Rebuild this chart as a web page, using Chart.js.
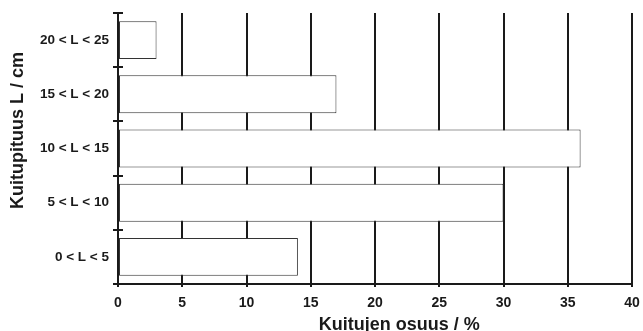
<!DOCTYPE html>
<html>
<head>
<meta charset="utf-8">
<script src="https://cdn.jsdelivr.net/npm/chart.js@4/dist/chart.umd.min.js"></script>
<style>
  html, body { margin: 0; padding: 0; background: #fff; }
  #wrap { width: 643px; height: 331px; position: relative; }
</style>
</head>
<body>
<div id="wrap"><canvas id="c" width="643" height="331"></canvas></div>
<script>
// Fibre length classes (bottom to top) and their share of fibres in percent
const lengthClasses = ['0 < L < 5', '5 < L < 10', '10 < L < 15', '15 < L < 20', '20 < L < 25'];
const shares = [14, 30, 36, 17, 3];
const xTicks = [0, 5, 10, 15, 20, 25, 30, 35, 40];
const xTitle = 'Kuitujen osuus / %';
const yTitle = 'Kuitupituus L / cm';

const FONT = '"Liberation Sans", Arial, sans-serif';
const INK = '#1a1a1a';

// Axis titles and the inner half of the class boundary ticks
const decorations = {
  id: 'decorations',
  afterDraw(chart) {
    const { ctx, chartArea } = chart;
    const y = chart.scales.y;
    ctx.save();
    ctx.strokeStyle = INK;
    ctx.lineWidth = 2;
    for (let i = 0; i <= lengthClasses.length; i++) {
      const py = Math.round(y.getPixelForValue(i - 0.5));
      ctx.beginPath();
      ctx.moveTo(chartArea.left, py);
      ctx.lineTo(chartArea.left + 5, py);
      ctx.stroke();
    }
    ctx.fillStyle = INK;
    ctx.font = 'bold 18px ' + FONT;
    ctx.textAlign = 'center';
    ctx.textBaseline = 'alphabetic';
    ctx.fillText(xTitle, chartArea.left + (chartArea.right - chartArea.left) * 0.547, 330);
    ctx.translate(23, (chartArea.top + chartArea.bottom) / 2 - 18);
    ctx.rotate(-Math.PI / 2);
    ctx.fillText(yTitle, 0, 0);
    ctx.restore();
  }
};

new Chart(document.getElementById('c'), {
  type: 'bar',
  data: {
    labels: lengthClasses,
    datasets: [{
      data: shares,
      backgroundColor: '#ffffff',
      borderColor: '#333333',
      borderWidth: 1,
      borderSkipped: false,
      barPercentage: 0.7,
      categoryPercentage: 1.0
    }]
  },
  options: {
    indexAxis: 'y',
    responsive: false,
    animation: false,
    devicePixelRatio: 1,
    layout: { padding: { top: 13, right: 11, left: 0, bottom: 0 } },
    plugins: { legend: { display: false }, tooltip: { enabled: false } },
    scales: {
      x: {
        type: 'linear',
        min: 0,
        max: 40,
        afterBuildTicks(scale) { scale.ticks = xTicks.map(v => ({ value: v })); },
        afterFit(scale) {
          scale.height = 47;
          scale.paddingLeft = 0;
          scale.paddingRight = 0;
        },
        grid: {
          color: INK,
          lineWidth: 2,
          tickLength: 3,
          drawTicks: true
        },
        border: { color: INK, width: 2 },
        ticks: {
          color: INK,
          padding: 8,
          font: { family: FONT, size: 14, weight: 'bold' }
        }
      },
      y: {
        type: 'category',
        reverse: true,
        afterFit(scale) {
          scale.width = 118;
          scale.paddingTop = 0;
          scale.paddingBottom = 0;
        },
        grid: {
          offset: true,
          drawOnChartArea: false,
          color: INK,
          lineWidth: 2,
          tickLength: 5
        },
        border: { color: INK, width: 2 },
        ticks: {
          color: INK,
          padding: 4,
          font: { family: FONT, size: 13.5, weight: 'bold' }
        }
      }
    }
  },
  plugins: [decorations]
});
</script>
</body>
</html>
